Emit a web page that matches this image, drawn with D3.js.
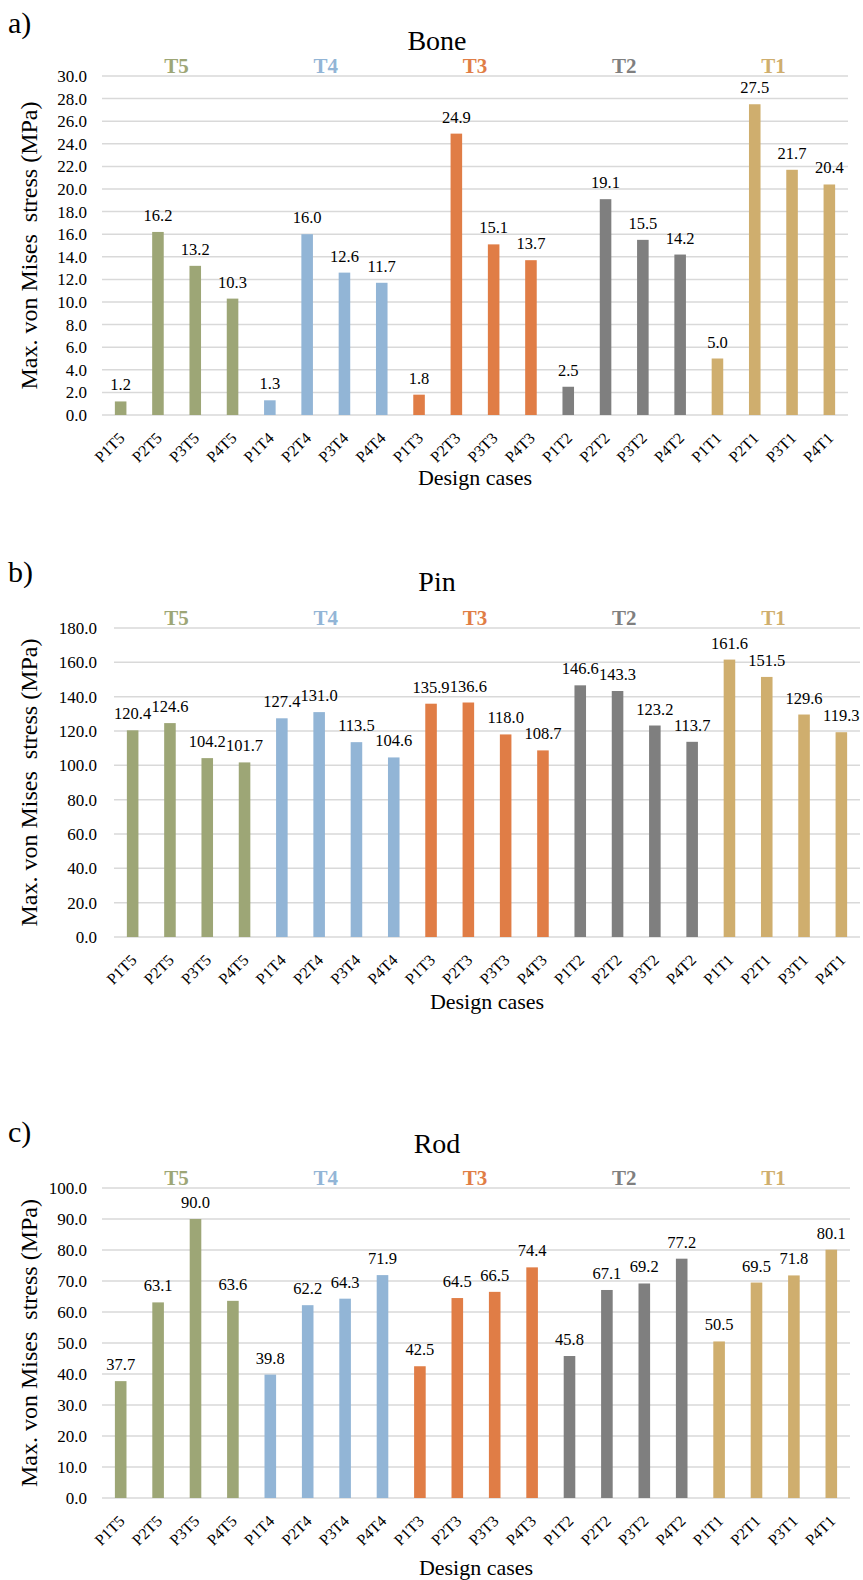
<!DOCTYPE html>
<html>
<head>
<meta charset="utf-8">
<script src="https://cdn.jsdelivr.net/npm/d3@7"></script>
<style>
  html, body { margin: 0; padding: 0; background: #fff; }
  svg text { font-family: "Liberation Serif", "Times New Roman", Tinos, "DejaVu Serif", serif; fill: #000; }
</style>
</head>
<body>
<svg id="chart" width="863" height="1580"></svg>
<script>
// ---------- data ----------
const categories = ["P1T5","P2T5","P3T5","P4T5","P1T4","P2T4","P3T4","P4T4",
                    "P1T3","P2T3","P3T3","P4T3","P1T2","P2T2","P3T2","P4T2",
                    "P1T1","P2T1","P3T1","P4T1"];
const groups = ["T5","T4","T3","T2","T1"];
const boneValues = [1.2,16.2,13.2,10.3,1.3,16.0,12.6,11.7,1.8,24.9,15.1,13.7,2.5,19.1,15.5,14.2,5.0,27.5,21.7,20.4];
const pinValues  = [120.4,124.6,104.2,101.7,127.4,131.0,113.5,104.6,135.9,136.6,118.0,108.7,146.6,143.3,123.2,113.7,161.6,151.5,129.6,119.3];
const rodValues  = [37.7,63.1,90.0,63.6,39.8,62.2,64.3,71.9,42.5,64.5,66.5,74.4,45.8,67.1,69.2,77.2,50.5,69.5,71.8,80.1];
const boneTicks = [0,2,4,6,8,10,12,14,16,18,20,22,24,26,28,30];
const pinTicks  = [0,20,40,60,80,100,120,140,160,180];
const rodTicks  = [0,10,20,30,40,50,60,70,80,90,100];

// ---------- styles ----------
const groupColors = {T5:"#9da676", T4:"#92b5d6", T3:"#e07d46", T2:"#7f7f7f", T1:"#cfae6e"};
const groupOf = c => c.slice(2);
const FONT = '"Liberation Serif", "Times New Roman", Tinos, "DejaVu Serif", serif';

const svg = d3.select("#chart");

// group label positions are shared by all panels
const groupScale = d3.scaleBand().domain(groups).range([102, 848]);

const panels = [
  {letter:"a)", title:"Bone", values:boneValues, ticks:boneTicks,
   left:102, right:848, top:76, bottom:415, letterY:33, titleY:50, xTitleY:485, tickRight:87},
  {letter:"b)", title:"Pin", values:pinValues, ticks:pinTicks,
   left:114, right:860, top:628, bottom:937, letterY:582, titleY:591, xTitleY:1009, tickRight:97},
  {letter:"c)", title:"Rod", values:rodValues, ticks:rodTicks,
   left:102, right:850, top:1188, bottom:1498, letterY:1142, titleY:1153, xTitleY:1575, tickRight:87}
];

panels.forEach(p => {
  const g = svg.append("g").attr("font-family", FONT);
  const x = d3.scaleBand().domain(categories).range([p.left, p.right]).paddingInner(0.69).paddingOuter(0.345);
  const y = d3.scaleLinear().domain([0, d3.max(p.ticks)]).range([p.bottom, p.top]);

  // gridlines
  g.selectAll("line.grid").data(p.ticks).join("line")
    .attr("x1", p.left).attr("x2", p.right)
    .attr("y1", d => y(d)).attr("y2", d => y(d))
    .attr("stroke", "#d9d9d9").attr("stroke-width", 1.5);

  // y tick labels
  g.selectAll("text.ytick").data(p.ticks).join("text")
    .attr("x", p.tickRight).attr("y", d => y(d)).attr("dy", "0.35em")
    .attr("text-anchor", "end").attr("font-size", 17)
    .text(d => d.toFixed(1));

  // bars
  g.selectAll("rect.bar").data(categories).join("rect")
    .attr("x", d => x(d)).attr("width", x.bandwidth())
    .attr("y", (d, i) => y(p.values[i]))
    .attr("height", (d, i) => y(0) - y(p.values[i]))
    .attr("fill", d => groupColors[groupOf(d)]);

  // value labels
  g.selectAll("text.val").data(categories).join("text")
    .attr("x", d => x(d) + x.bandwidth() / 2)
    .attr("y", (d, i) => y(p.values[i]) - 11)
    .attr("text-anchor", "middle").attr("font-size", 16.5)
    .text((d, i) => p.values[i].toFixed(1));

  // x tick labels
  g.selectAll("text.xtick").data(categories).join("text")
    .attr("transform", d => `translate(${x(d) + x.bandwidth() / 2 + 5},${p.bottom + 24}) rotate(-45)`)
    .attr("text-anchor", "end").attr("font-size", 16)
    .text(d => d);

  // group labels
  g.selectAll("text.grp").data(groups).join("text")
    .attr("x", d => groupScale(d) + groupScale.bandwidth() / 2)
    .attr("y", p.top - 3)
    .attr("text-anchor", "middle").attr("font-size", 21).attr("font-weight", "bold")
    .style("fill", d => groupColors[d])
    .text(d => d);

  // titles
  g.append("text").attr("x", 437).attr("y", p.titleY).attr("text-anchor", "middle")
    .attr("font-size", 28).text(p.title);
  g.append("text").attr("x", 8).attr("y", p.letterY).attr("font-size", 30).text(p.letter);
  g.append("text").attr("x", (p.left + p.right) / 2).attr("y", p.xTitleY)
    .attr("text-anchor", "middle").attr("font-size", 22).text("Design cases");
  g.append("text")
    .attr("transform", `translate(37,${(p.top + p.bottom) / 2}) rotate(-90)`)
    .attr("text-anchor", "middle").attr("font-size", 24)
    .style("white-space", "pre")
    .text("Max. von Mises  stress (MPa)");
});
</script>
</body>
</html>
